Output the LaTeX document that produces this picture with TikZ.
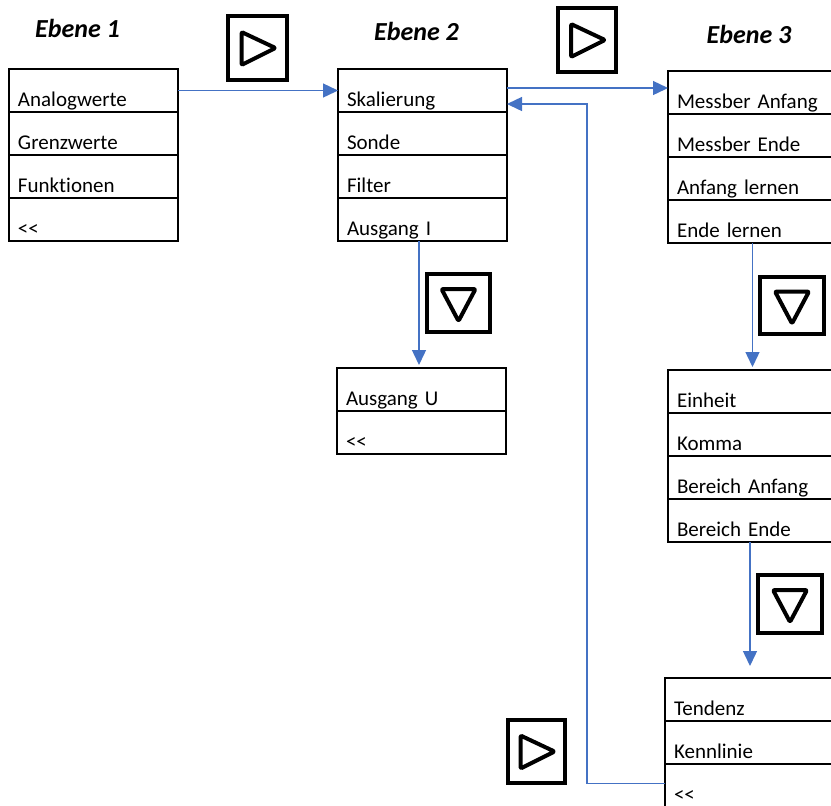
\documentclass[tikz,border=0pt]{standalone}
\usepackage{fontspec}
\setmainfont{Carlito}[Ligatures=NoCommon]
\usetikzlibrary{positioning,arrows.meta}

\definecolor{pfeilblau}{HTML}{4472C4}

\tikzset{
    zeile/.style={draw, line width=1.2pt, rectangle, anchor=north west,
        text width=75.5pt, inner xsep=4.5pt, inner ysep=0pt, outer sep=0pt,
        text height=18.5pt, text depth=3pt, align=left,
        font=\fontsize{10.5}{12}\selectfont},
    ebene/.style={anchor=base, font=\fontsize{13}{15}\selectfont\bfseries\itshape},
    taste/.style={draw, line width=2pt, rectangle, inner sep=0pt},
    dreieck/.style={line width=2pt, line join=round, rounded corners=0.6pt},
    pfeil/.style={draw=pfeilblau, line width=0.7pt, -{Triangle[length=7.5pt, width=7pt]}}
}

\begin{document}
\begin{tikzpicture}[x=0.5pt, y=-0.5pt]

    \useasboundingbox (0,0) rectangle (831,805);
    \clip (0,0) rectangle (831,805);

    % -- Ueberschriften --
    \node[ebene] (e1) at (77.5,37) {Ebene 1};
    \node[ebene] (e2) at (416.5,40) {Ebene 2};
    \node[ebene] (e3) at (749,43) {Ebene 3};

    % -- Ebene 1 --
    \node[zeile] (m1-1) at (9,69) {Analogwerte};
    \node[zeile, below=0pt of m1-1] (m1-2) {Grenzwerte};
    \node[zeile, below=0pt of m1-2] (m1-3) {Funktionen};
    \node[zeile, below=0pt of m1-3] (m1-4) {<{}<};

    % -- Ebene 2 --
    \node[zeile] (m2-1) at (338,69) {Skalierung};
    \node[zeile, below=0pt of m2-1] (m2-2) {Sonde};
    \node[zeile, below=0pt of m2-2] (m2-3) {Filter};
    \node[zeile, below=0pt of m2-3] (m2-4) {Ausgang I};

    \node[zeile] (m2b-1) at (337,368) {Ausgang U};
    \node[zeile, below=0pt of m2b-1] (m2b-2) {<{}<};

    % -- Ebene 3 --
    \node[zeile] (m3-1) at (668,71) {Messber Anfang};
    \node[zeile, below=0pt of m3-1] (m3-2) {Messber Ende};
    \node[zeile, below=0pt of m3-2] (m3-3) {Anfang lernen};
    \node[zeile, below=0pt of m3-3] (m3-4) {Ende lernen};

    \node[zeile] (m3b-1) at (668,370) {Einheit};
    \node[zeile, below=0pt of m3b-1] (m3b-2) {Komma};
    \node[zeile, below=0pt of m3b-2] (m3b-3) {Bereich Anfang};
    \node[zeile, below=0pt of m3b-3] (m3b-4) {Bereich Ende};

    \node[zeile] (m4-1) at (665,678) {Tendenz};
    \node[zeile, below=0pt of m4-1] (m4-2) {Kennlinie};
    \node[zeile, below=0pt of m4-2] (m4-3) {<{}<};

    % -- Tasten --
    \node[taste, minimum width=29.5pt, minimum height=32pt] (t1) at (257.5,48) {};
    \node[taste, minimum width=29pt, minimum height=32pt] (t2) at (587,40) {};
    \node[taste, minimum width=28.5pt, minimum height=31.5pt] (t3) at (536.5,751.5) {};
    \node[taste, minimum width=31.5pt, minimum height=29pt] (t4) at (458.5,303) {};
    \node[taste, minimum width=32pt, minimum height=28.5pt] (t5) at (792,305.5) {};
    \node[taste, minimum width=32pt, minimum height=29pt] (t6) at (790,604) {};

    \draw[dreieck, shift={(t1.center)}] (-16,-16) -- (18,0) -- (-16,17) -- cycle;
    \draw[dreieck, shift={(t2.center)}] (-16,-16) -- (18,0) -- (-16,17) -- cycle;
    \draw[dreieck, shift={(t3.center)}] (-16,-16) -- (18,0) -- (-16,17) -- cycle;
    \draw[dreieck, shift={(t4.center)}] (-17,-14) -- (17,-14) -- (0,18) -- cycle;
    \draw[dreieck, shift={(t5.center)}] (-17,-14) -- (17,-14) -- (0,18) -- cycle;
    \draw[dreieck, shift={(t6.center)}] (-17,-14) -- (17,-14) -- (0,18) -- cycle;

    % -- Pfeile --
    \draw[pfeil] (m1-1.east) -- (m2-1.west);
    \draw[pfeil] ([yshift=1.25pt]m2-1.east) -- ([yshift=1.25pt]m2-1.east -| m3-1.west);
    \draw[pfeil, shorten >=1.5pt] ([xshift=-1.75pt]m2-4.south) -- ([xshift=-1.75pt]m2-4.south |- m2b-1.north);
    \draw[pfeil, shorten >=1.5pt] (m3-4.south) -- (m3-4.south |- m3b-1.north);
    \draw[pfeil, shorten >=6pt] ([xshift=-1.25pt]m3b-4.south) -- ([xshift=-1.25pt]m3b-4.south |- m4-1.north);

    % Ruecksprung von << nach Skalierung
    \coordinate (rueck) at (587,0);
    \coordinate (ziel) at ([yshift=-6.75pt]m2-1.east);
    \draw[pfeil] ([yshift=1pt]m4-3.west) -| (ziel -| rueck) -- (ziel);

\end{tikzpicture}
\end{document}
